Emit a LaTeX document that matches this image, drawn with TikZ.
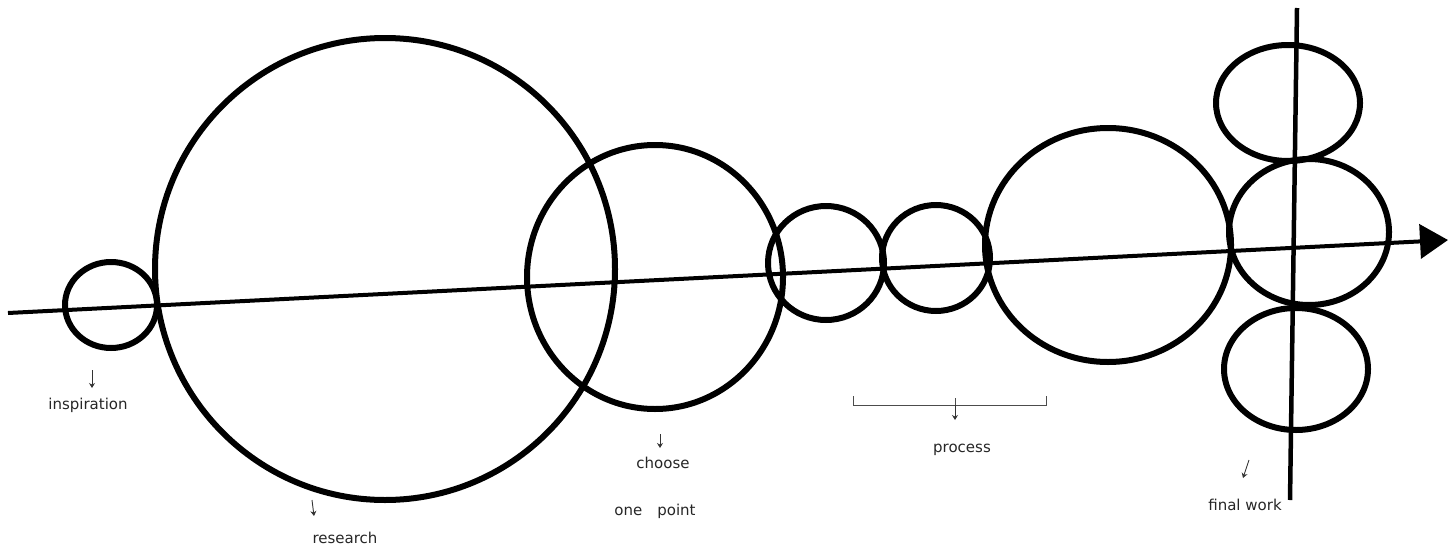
\documentclass[tikz,border=0pt]{standalone}
\usepackage{fontspec}
\setmainfont{DejaVu Sans}
\usetikzlibrary{shapes.geometric,arrows.meta}
\begin{document}
\begin{tikzpicture}[x=1pt,y=-1pt,
  ring/.style={draw=black,line width=6pt,ellipse,inner sep=0pt},
  axisline/.style={line width=4pt,-{Triangle[length=28pt,width=34pt]}},
  vline/.style={line width=4.5pt},
  lbl/.style={font=\fontsize{15}{17}\selectfont,inner sep=1pt,text=black!85},
  tick/.style={line width=0.9pt,-{Stealth[length=5pt,width=6pt]},black!80},
  brk/.style={line width=0.8pt,black!70}]
\useasboundingbox (0,0) rectangle (1450,554);
% axis
\coordinate (a0) at (8,313);
\coordinate (a1) at (1448,240);
\coordinate (v0) at (1297,8);
\coordinate (v1) at (1290,500);
% circles
\node[ring,minimum width=92pt,minimum height=86pt] (insp) at (111,305) {};
\node[ring,minimum width=460pt,minimum height=462pt] (res) at (385,269) {};
\node[ring,minimum width=256pt,minimum height=264pt] (cho) at (655,277) {};
\node[ring,minimum width=116pt,minimum height=114pt] (p1) at (826,263) {};
\node[ring,minimum width=108pt,minimum height=106pt] (p2) at (936,258) {};
\node[ring,minimum width=246pt,minimum height=234pt] (p3) at (1108,245) {};
\node[ring,minimum width=144pt,minimum height=116pt] (ft) at (1288,103) {};
\node[ring,minimum width=160pt,minimum height=146pt] (fm) at (1309,232) {};
\node[ring,minimum width=144pt,minimum height=122pt] (fb) at (1296,369) {};
\draw[axisline] (a0) -- (a1);
\draw[vline] (v0) -- (v1);
% labels
\node[lbl] (linsp) at (88,405) {inspiration};
\node[lbl] (lres) at (345,538) {research};
\node[lbl] (lcho) at (663,463) {choose};
\node[lbl] (lone) at (655,511) {one\quad point};
\node[lbl] (lpro) at (962,450) {process};
\node[lbl] (lfin) at (1245,505) {final work};
% label arrows
\coordinate (t1) at (92,370);
\coordinate (u1) at (92,388);
\coordinate (t2) at (312,500);
\coordinate (u2) at (314,516);
\coordinate (t3) at (660,434);
\coordinate (u3) at (660,448);
\coordinate (t5) at (1249,460);
\coordinate (u5) at (1243,478);
\draw[tick] (t1) -- (u1);
\draw[tick] (t2) -- (u2);
\draw[tick] (t3) -- (u3);
\draw[tick] (t5) -- (u5);
% bracket
\coordinate (b1) at (853,396);
\coordinate (b2) at (853,405);
\coordinate (b3) at (1046,405);
\coordinate (b4) at (1046,396);
\coordinate (bm) at (955,405);
\coordinate (bt) at (955,398);
\coordinate (bu) at (955,420);
\draw[brk] (b1) -- (b2) -- (b3) -- (b4);
\draw[brk] (bt) -- (bm);
\draw[tick] (bm) -- (bu);
\end{tikzpicture}
\end{document}
